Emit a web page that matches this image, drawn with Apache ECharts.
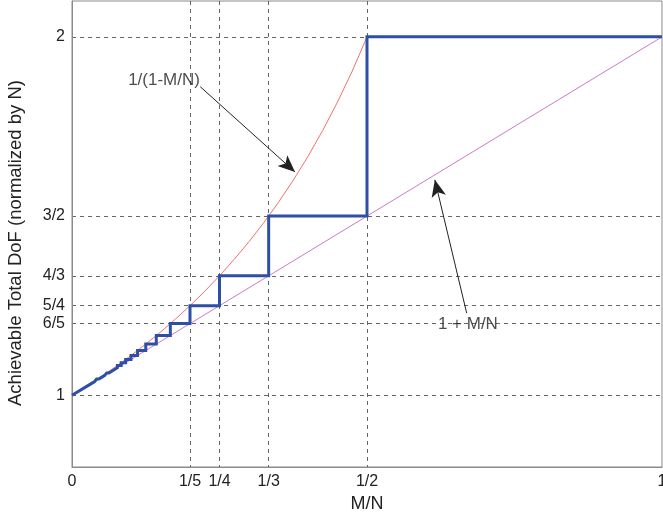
<!DOCTYPE html>
<html>
<head>
<meta charset="utf-8">
<script src="https://cdn.jsdelivr.net/npm/echarts@6/dist/echarts.min.js"></script>
<style>html,body{margin:0;padding:0;background:#fff}#c{width:663px;height:516px}</style>
</head>
<body>
<div id="c"></div>
<script>
// Tick positions and labels
const xTickValues = [0, 1/5, 1/4, 1/3, 1/2, 1];
const xTickLabels = ['0', '1/5', '1/4', '1/3', '1/2', '1'];
const xGridValues = [1/5, 1/4, 1/3, 1/2];
const yTickValues = [1, 6/5, 5/4, 4/3, 3/2, 2];
const yTickLabels = ['1', '6/5', '5/4', '4/3', '3/2', '2'];

// Staircase (achievable DoF): breakpoints and the value at the lower corner of each jump
const stairBreaksX = [1/30, 1/28, 1/26, 1/24, 1/22, 1/20, 1/19, 1/18, 1/17, 1/16, 1/15, 1/14, 1/13, 1/12, 1/11, 1/10, 1/9, 1/8, 1/7, 1/6, 1/5, 1/4, 1/3, 1/2, 1];
const stairLowerY  = [31/30, 29/28, 27/26, 25/24, 23/22, 21/20, 20/19, 19/18, 18/17, 17/16, 16/15, 15/14, 14/13, 13/12, 12/11, 11/10, 10/9, 9/8, 8/7, 7/6, 6/5, 5/4, 4/3, 3/2, 2];

// Upper bound curve 1/(1-M/N)
const upperX = [0, 0.025, 0.05, 0.075, 0.1, 0.125, 0.15, 0.175, 0.2, 0.225, 0.25, 0.275, 0.3, 0.325, 0.35, 0.375, 0.4, 0.425, 0.45, 0.475, 0.5];
const upperY = [1, 1.02564, 1.05263, 1.08108, 1.11111, 1.14286, 1.17647, 1.21212, 1.25, 1.29032, 1.33333, 1.37931, 1.42857, 1.48148, 1.53846, 1.6, 1.66667, 1.73913, 1.81818, 1.90476, 2];

// Lower line 1 + M/N
const lowerX = [0, 1];
const lowerY = [1, 2];

// Annotations: text, text anchor, arrow start, arrow tip (data coordinates)
const annoTexts = ['1/(1-M/N)', '1 + M/N'];
const annoTextPos = [[0.156, 1.878], [0.671, 1.198]];
const annoArrowFrom = [[0.2173, 1.861], [0.669, 1.229]];
const annoArrowTo = [[0.378, 1.623], [0.615, 1.601]];

// Build staircase path
const stairPts = [[0, 1]];
for (let i = 0; i < stairBreaksX.length; i++) {
  stairPts.push([stairBreaksX[i], stairLowerY[i]]);
  if (i + 1 < stairBreaksX.length) stairPts.push([stairBreaksX[i], stairLowerY[i + 1]]);
}
const upperPts = upperX.map((x, i) => [x, upperY[i]]);
const lowerPts = lowerX.map((x, i) => [x, lowerY[i]]);

function fmt(values, labels) {
  return function (v) {
    for (let i = 0; i < values.length; i++) if (Math.abs(values[i] - v) < 1e-6) return labels[i];
    return '';
  };
}

const FONT = '"Liberation Sans", Arial, sans-serif';
const chart = echarts.init(document.getElementById('c'));
chart.setOption({
  animation: false,
  backgroundColor: '#fff',
  grid: { left: 72, right: 1, top: 1, bottom: 49, show: true, borderColor: '#8a8a8a', borderWidth: 1,
    containLabel: false, outerBoundsMode: 'none' },
  xAxis: {
    type: 'value', min: 0, max: 1,
    name: 'M/N', nameLocation: 'middle', nameGap: 28,
    nameTextStyle: { fontFamily: FONT, fontSize: 18, color: '#222' },
    axisLine: { show: true, lineStyle: { color: '#8a8a8a', width: 1 } },
    axisTick: { show: false, customValues: xGridValues },
    axisLabel: { customValues: xTickValues, formatter: fmt(xTickValues, xTickLabels), margin: 7,
      fontFamily: FONT, fontSize: 16, color: '#222' },
    splitLine: { show: true, lineStyle: { color: '#666', width: 1, type: [4, 4] } }
  },
  yAxis: {
    type: 'value', min: 0.8, max: 2.1,
    name: 'Achievable Total DoF (normalized by N)', nameLocation: 'middle', nameGap: 47,
    nameTextStyle: { fontFamily: FONT, fontSize: 18.5, color: '#222', padding: [0, 18, 0, 0] },
    axisLine: { show: true, lineStyle: { color: '#8a8a8a', width: 1 } },
    axisTick: { show: false, customValues: yTickValues },
    axisLabel: { customValues: yTickValues, formatter: fmt(yTickValues, yTickLabels), margin: 7,
      fontFamily: FONT, fontSize: 16, color: '#222' },
    splitLine: { show: true, lineStyle: { color: '#666', width: 1, type: [4, 4] } }
  },
  series: [
    { type: 'line', name: 'upper', data: upperPts, showSymbol: false, smooth: false,
      lineStyle: { color: '#f07070', width: 1 }, silent: true, z: 3 },
    { type: 'line', name: 'lower', data: lowerPts, showSymbol: false,
      lineStyle: { color: '#cc7acc', width: 1 }, silent: true, z: 3 },
    { type: 'line', name: 'DoF', data: stairPts, showSymbol: false,
      lineStyle: { color: '#2e4fa6', width: 3, join: 'miter' }, silent: true, z: 4 },
    { type: 'scatter', name: 'annotations', symbolSize: 0, silent: true, z: 6,
      data: annoTexts.map((t, i) => ({ name: t, value: annoTextPos[i] })),
      label: { show: true, position: 'inside', formatter: p => p.name,
        fontFamily: FONT, fontSize: 17, color: '#222' },
      markLine: {
        silent: true, symbol: ['none', 'arrow'], symbolSize: [11, 17],
        lineStyle: { color: '#222', width: 1, type: 'solid' },
        label: { show: false },
        data: annoArrowFrom.map((f, i) => [{ coord: f }, { coord: annoArrowTo[i] }])
      }
    }
  ]
});
</script>
</body>
</html>
